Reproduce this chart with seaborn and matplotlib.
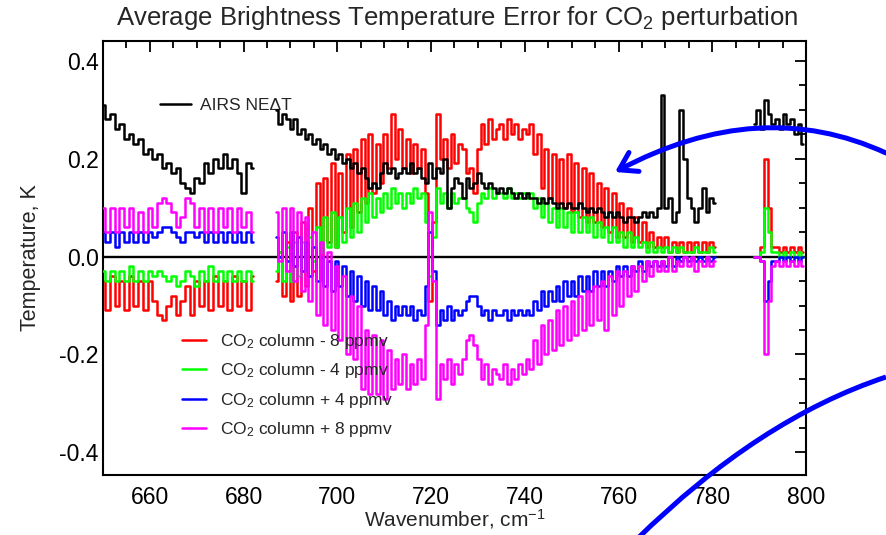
import numpy as np
import pandas as pd
import seaborn as sns
import matplotlib
matplotlib.use("Agg")
import matplotlib.pyplot as plt
from matplotlib.path import Path
from matplotlib.patches import FancyArrowPatch, PathPatch
from matplotlib.lines import Line2D
from matplotlib.ticker import MultipleLocator

# ---------------------------------------------------------------------------
# Channel wavenumbers (cm^-1) for the three AIRS channel blocks
# ---------------------------------------------------------------------------
wn_block1 = [650, 651, 652, 653, 654, 655, 656, 657, 658, 659, 660, 661, 662,
             663, 664, 665, 666, 667, 668, 669, 670, 671, 672, 673, 674, 675,
             676, 677, 678, 679, 680, 681, 682]
wn_block2 = [687.0, 687.8, 688.6, 689.4, 690.2, 691.0, 691.8, 692.6, 693.4, 694.2,
             695.0, 695.8, 696.6, 697.4, 698.2, 699.0, 699.8, 700.6, 701.4, 702.2,
             703.0, 703.8, 704.6, 705.4, 706.2, 707.0, 707.8, 708.6, 709.4, 710.2,
             711.0, 711.8, 712.6, 713.4, 714.2, 715.0, 715.8, 716.6, 717.4, 718.2,
             719.0, 719.8, 720.6, 721.4, 722.2, 723.0, 723.8, 724.6, 725.4, 726.2,
             727.0, 727.8, 728.6, 729.4, 730.2, 731.0, 731.8, 732.6, 733.4, 734.2,
             735.0, 735.8, 736.6, 737.4, 738.2, 739.0, 739.8, 740.6, 741.4, 742.2,
             743.0, 743.8, 744.6, 745.4, 746.2, 747.0, 747.8, 748.6, 749.4, 750.2,
             751.0, 751.8, 752.6, 753.4, 754.2, 755.0, 755.8, 756.6, 757.4, 758.2,
             759.0, 759.8, 760.6, 761.4, 762.2, 763.0, 763.8, 764.6, 765.4, 766.2,
             767.0, 767.8, 768.6, 769.4, 770.2, 771.0, 771.8, 772.6, 773.4, 774.2,
             775.0, 775.8, 776.6, 777.4, 778.2, 779.0, 779.8, 780.6]
wn_block3 = [789.0, 789.8, 790.6, 791.4, 792.2, 793.0, 793.8, 794.6, 795.4,
             796.2, 797.0, 797.8, 798.6, 799.4]

# ---------------------------------------------------------------------------
# Brightness temperature values, in hundredths of a kelvin
# ---------------------------------------------------------------------------
# AIRS instrument noise (NEdT)
nedt_b1 = [31, 28, 29, 26, 27, 24, 25, 23, 24, 21, 22, 20, 21, 18, 19, 17, 18,
           15, 14, 13, 16, 15, 19, 17, 20, 18, 21, 18, 20, 17, 13, 19, 18]
nedt_b2 = [30, 27, 29, 28, 26, 28, 25, 26, 24, 25,
           23, 24, 22, 23, 21, 22, 20, 21, 19, 20,
           18, 19, 17, 18, 16, 14, 15, 14, 17, 19,
           17, 18, 16, 17, 18, 17, 19, 17, 18, 16,
           15, 19, 16, 18, 17, 20, 10, 14, 16, 15,
           12, 16, 14, 15, 17, 15, 14, 15, 14, 13,
           14, 13, 14, 13, 12, 13, 12, 13, 12, 12,
           11, 12, 11, 12, 11, 10, 11, 10, 11, 10,
           10, 11, 10, 9, 10, 9, 10, 9, 8, 9,
           8, 9, 8, 7, 8, 8, 7, 8, 9, 8,
           9, 8, 10, 33, 10, 12, 7, 9, 30, 20,
           12, 10, 7, 10, 14, 9, 12, 11]
nedt_b3 = [27, 30, 26, 32, 29, 27, 28, 26, 29, 27, 28, 25, 27, 23]

# CO2 column - 8 ppmv
minus8_b1 = [-5, -11, -4, -10, -5, -11, -4, -10, -5, -11, -5, -9, -12, -13, -10,
             -8, -12, -9, -6, -12, -5, -10, -5, -11, -4, -10, -5, -11, -4, -10,
             -5, -11, -4]
minus8_b2 = [-5, 1, -8, 3, -9, 5, -8, 7, -6, 10,
             -3, 15, 0, 16, 3, 19, 2, 17, 5, 21,
             6, 22, 9, 24, 11, 25, 13, 23, 15, 25,
             18, 29, 20, 26, 18, 24, 17, 23, 18, 22,
             13, -9, 7, 29, 20, 24, 18, 25, 19, 23,
             22, 17, 18, 13, 22, 27, 23, 28, 24, 26,
             27, 24, 28, 25, 27, 24, 26, 25, 27, 21,
             25, 14, 22, 12, 21, 11, 20, 10, 21, 9,
             19, 8, 18, 7, 17, 7, 15, 6, 14, 5,
             13, 4, 11, 4, 10, 3, 8, 3, 7, 2,
             5, 2, 4, 2, 4, 1, 3, 1, 3, 1,
             3, 1, 3, 1, 3, 1, 3, 2]
minus8_b3 = [0, 0, 2, 20, 10, 2, 2, 1, 2, 1, 2, 1, 2, 1]

# CO2 column - 4 ppmv
minus4_b1 = [-3, -5, -3, -5, -3, -5, -2, -5, -3, -5, -3, -4, -3, -4, -5, -4,
             -6, -5, -3, -4, -6, -3, -5, -2, -5, -3, -5, -3, -5, -3, -5, -3, -5]
minus4_b2 = [-3, 1, -5, 2, -5, 3, -4, 3, -3, 4,
             -1, 6, 1, 8, 2, 9, 2, 8, 3, 10,
             4, 11, 5, 12, 7, 13, 8, 12, 9, 13,
             10, 14, 11, 13, 10, 13, 11, 14, 12, 13,
             7, -4, 4, 14, 11, 13, 10, 13, 11, 12,
             12, 10, 9, 7, 11, 13, 12, 14, 12, 13,
             13, 12, 14, 12, 13, 12, 13, 12, 13, 10,
             12, 8, 11, 7, 10, 6, 10, 6, 9, 5,
             9, 5, 8, 5, 8, 4, 7, 4, 6, 3,
             6, 3, 5, 2, 5, 2, 4, 2, 3, 1,
             3, 1, 2, 1, 2, 1, 2, 1, 2, 1,
             1, 1, 2, 1, 1, 1, 2, 1]
minus4_b3 = [0, 0, 1, 10, 5, 1, 1, 0, 1, 0, 1, 0, 1, 0]

# CO2 column + 4 ppmv
plus4_b1 = [5, 3, 5, 2, 5, 3, 5, 3, 5, 3, 5, 4, 5, 6, 6, 5, 4, 3, 5, 5, 4, 5,
            3, 5, 3, 5, 3, 5, 3, 5, 3, 5, 3]
plus4_b2 = [4, 0, 5, -1, 5, -2, 4, -3, 3, -4,
            2, -5, 0, -6, -1, -7, -1, -6, -2, -8,
            -3, -9, -4, -10, -5, -11, -6, -11, -7, -12,
            -9, -13, -10, -12, -10, -12, -10, -13, -11, -12,
            -6, 5, -3, -14, -11, -13, -10, -13, -11, -12,
            -11, -9, -8, -8, -10, -12, -11, -13, -11, -12,
            -12, -11, -13, -11, -12, -11, -12, -11, -12, -9,
            -11, -7, -10, -7, -9, -6, -9, -5, -8, -5,
            -8, -4, -7, -4, -7, -3, -6, -3, -6, -3,
            -5, -2, -4, -2, -4, -2, -3, -1, -3, -1,
            -2, -1, -2, -1, -2, 0, -2, 0, -1, 0,
            -1, 0, -1, 0, -1, 0, -1, 0]
plus4_b3 = [0, 0, -1, -9, -5, -1, -1, 0, -1, 0, -1, 0, -1, 0]

# CO2 column + 8 ppmv
plus8_b1 = [10, 5, 10, 5, 10, 6, 10, 5, 9, 5, 10, 6, 11, 12, 11, 9, 6, 8, 12,
            11, 6, 10, 5, 10, 5, 10, 6, 10, 5, 10, 6, 9, 5]
plus8_b2 = [9, -1, 10, -3, 10, -5, 9, -7, 8, -9,
            5, -12, 3, -14, 1, -15, -2, -17, -4, -20,
            -8, -21, -10, -27, -15, -28, -16, -28, -17, -29,
            -19, -27, -21, -26, -20, -27, -22, -26, -21, -25,
            -14, 9, -5, -29, -22, -25, -21, -26, -22, -24,
            -21, -17, -16, -18, -21, -25, -22, -26, -23, -24,
            -25, -22, -26, -23, -25, -22, -24, -21, -23, -17,
            -22, -14, -20, -13, -19, -11, -18, -10, -17, -9,
            -16, -8, -15, -7, -14, -6, -13, -5, -15, -4,
            -12, -3, -10, -3, -8, -2, -7, -2, -5, -1,
            -4, -1, -3, -1, -3, 0, -3, -1, -2, 0,
            -2, 0, -3, -1, -2, 0, -2, -1]
plus8_b3 = [0, 0, -1, -20, -9, -2, -1, -2, -1, -2, -1, -2, -1, -2]

series_labels = ["AIRS NE\u0394T",
                 "CO$_2$ column - 8 ppmv", "CO$_2$ column - 4 ppmv",
                 "CO$_2$ column + 4 ppmv", "CO$_2$ column + 8 ppmv"]
series_blocks = {
    "nedt": (nedt_b1, nedt_b2, nedt_b3),
    "minus8": (minus8_b1, minus8_b2, minus8_b3),
    "minus4": (minus4_b1, minus4_b2, minus4_b3),
    "plus4": (plus4_b1, plus4_b2, plus4_b3),
    "plus8": (plus8_b1, plus8_b2, plus8_b3),
}
wn_blocks = (wn_block1, wn_block2, wn_block3)

# Long-form table: one row per channel, per series
rows = []
for name, blocks in series_blocks.items():
    for b, (wn, vals) in enumerate(zip(wn_blocks, blocks)):
        for w, v in zip(wn, vals):
            rows.append((name, b, w, v / 100.0))
df = pd.DataFrame(rows, columns=["series", "block", "wavenumber", "dT"])

# ---------------------------------------------------------------------------
# Styling
# ---------------------------------------------------------------------------
sns.set_style("white")
plt.rcParams["font.family"] = ["Liberation Sans", "DejaVu Sans"]
plt.rcParams["mathtext.fontset"] = "custom"
plt.rcParams["mathtext.rm"] = "Liberation Sans"
plt.rcParams["mathtext.it"] = "Liberation Sans:italic"
plt.rcParams["axes.unicode_minus"] = False

colors = {"nedt": "#000000", "minus8": "#ff0000", "minus4": "#00ff00",
          "plus4": "#0000ff", "plus8": "#ff00ff"}

fig = plt.figure(figsize=(8.86, 5.35), dpi=100)
ax = fig.add_axes([103 / 886, 60 / 535, 703 / 886, 434 / 535])

ax.axhline(0.0, color="black", lw=1.7, zorder=1)

draw_order = ["minus8", "minus4", "plus4", "plus8", "nedt"]
for z, name in enumerate(draw_order):
    sub = df[df["series"] == name]
    sns.lineplot(data=sub, x="wavenumber", y="dT", units="block",
                 estimator=None, sort=False, color=colors[name],
                 drawstyle="steps-mid", lw=1.8, ax=ax, legend=False,
                 zorder=2 + z)

ax.set_xlim(650, 800)
ax.set_ylim(-0.446, 0.44)
ax.xaxis.set_major_locator(MultipleLocator(20))
ax.xaxis.set_minor_locator(MultipleLocator(5))
ax.yaxis.set_major_locator(MultipleLocator(0.2))
ax.yaxis.set_minor_locator(MultipleLocator(0.05))
ax.set_xticks([660, 680, 700, 720, 740, 760, 780, 800])
ax.set_yticks([-0.4, -0.2, 0.0, 0.2, 0.4])
ax.set_yticklabels(["-0.4", "-0.2", "0.0", "0.2", "0.4"])
ax.tick_params(which="both", direction="in", top=True, right=True,
               width=1.3, color="black", labelsize=16.5, labelcolor="black")
ax.tick_params(which="major", length=8)
ax.tick_params(which="minor", length=5)
ax.tick_params(axis="x", which="major", pad=8)
ax.tick_params(axis="y", which="major", pad=3)
for side in ax.spines.values():
    side.set_linewidth(1.5)
    side.set_color("black")

ax.set_xlabel("Wavenumber, cm$^{-1}$", fontsize=15)
ax.set_ylabel("Temperature, K", fontsize=15.5)
ax.xaxis.set_label_coords(0.5, -0.074)
ax.yaxis.set_label_coords(-0.088, 0.5)

fig.text(457 / 886, 1 - 25 / 535,
         "Average Brightness Temperature Error for CO$_2$ perturbation",
         ha="center", va="baseline", fontsize=18.5)

# Legends: noise level on its own, perturbations in a separate block
leg1 = ax.legend(handles=[Line2D([], [], color="black", lw=1.8)],
                 labels=[series_labels[0]], loc="upper left",
                 bbox_to_anchor=(0.081, 0.868), frameon=False, fontsize=12.5,
                 handlelength=1.8, handletextpad=0.5, borderpad=0,
                 borderaxespad=0)
ax.add_artist(leg1)
pert_handles = [Line2D([], [], color=colors[k], lw=1.8)
                for k in ["minus8", "minus4", "plus4", "plus8"]]
ax.legend(handles=pert_handles, labels=series_labels[1:], loc="upper left",
          bbox_to_anchor=(0.112, 0.33), frameon=False, fontsize=12.5,
          handlelength=1.4, handletextpad=0.8, labelspacing=0.6,
          borderpad=0, borderaxespad=0)

# Blue callout curves drawn across the figure
def fig_xy(px, py):
    return (px / 886, 1 - py / 535)

arrow_path = Path([fig_xy(886, 153), fig_xy(760, 95), fig_xy(615, 172)],
                  [Path.MOVETO, Path.CURVE3, Path.CURVE3])
arrow = FancyArrowPatch(path=arrow_path,
                        arrowstyle="->,head_length=0.55,head_width=0.35",
                        mutation_scale=22, color="#0000ff", lw=3.6,
                        transform=fig.transFigure, clip_on=False)
fig.add_artist(arrow)

curve_path = Path([fig_xy(886, 377), fig_xy(759, 419), fig_xy(636, 540)],
                  [Path.MOVETO, Path.CURVE3, Path.CURVE3])
curve = PathPatch(curve_path, fill=False, edgecolor="#0000ff", lw=3.6,
                  transform=fig.transFigure, clip_on=False)
fig.add_artist(curve)

fig.savefig("out.png", dpi=100)
